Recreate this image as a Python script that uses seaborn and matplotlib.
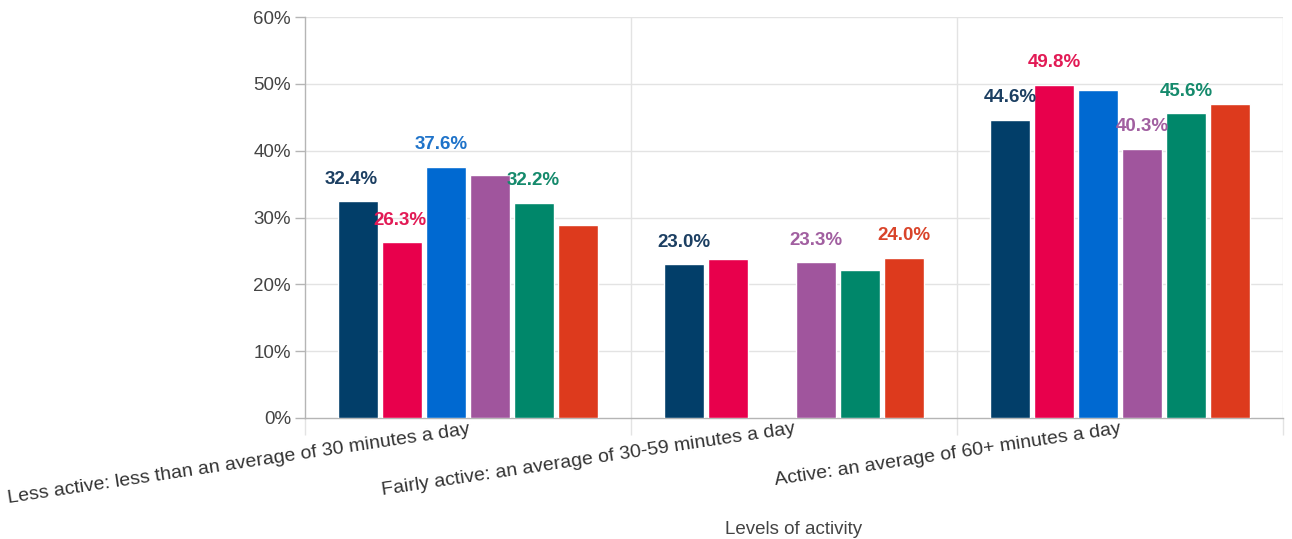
import numpy as np
import pandas as pd
import matplotlib
matplotlib.use("Agg")
import matplotlib.pyplot as plt
import seaborn as sns

# ---- data ----
categories = [
    "Less active: less than an average of 30 minutes a day",
    "Fairly active: an average of 30-59 minutes a day",
    "Active: an average of 60+ minutes a day",
]
series = ["Series 1", "Series 2", "Series 3", "Series 4", "Series 5", "Series 6"]
values_s1 = [32.4, 23.0, 44.6]
values_s2 = [26.3, 23.8, 49.8]
values_s3 = [37.6, np.nan, 49.1]
values_s4 = [36.4, 23.3, 40.3]
values_s5 = [32.2, 22.2, 45.6]
values_s6 = [28.9, 24.0, 47.0]
# which values carry a data label in the reference
labelled_s1 = [True, True, True]
labelled_s2 = [True, False, True]
labelled_s3 = [True, False, False]
labelled_s4 = [False, True, True]
labelled_s5 = [True, False, True]
labelled_s6 = [False, True, False]
y_ticks = [0, 10, 20, 30, 40, 50, 60]
x_title = "Levels of activity"

# ---- styles ----
colors = ["#023e69", "#e8004c", "#0069d1", "#a0559d", "#00876a", "#dd3a1d"]
label_colors = ["#1c3f62", "#e21a55", "#1f73c9", "#a15fa0", "#158a6c", "#d9442a"]
# small horizontal nudges (pixels) of labels, per series per category
label_dx = {(0, 0): -7, (1, 0): -2, (2, 0): -5, (4, 0): -1}

all_values = [values_s1, values_s2, values_s3, values_s4, values_s5, values_s6]
all_labelled = [labelled_s1, labelled_s2, labelled_s3, labelled_s4, labelled_s5, labelled_s6]

rows = []
for s, vals in zip(series, all_values):
    for c, v in zip(categories, vals):
        rows.append({"category": c, "series": s, "value": v})
df = pd.DataFrame(rows)

sns.set_theme(style="white")
plt.rcParams["font.family"] = ["Liberation Sans", "DejaVu Sans"]

fig = plt.figure(figsize=(12.92, 5.39), dpi=100)
ax = fig.add_axes([305 / 1292, 1 - 418 / 539, (1283 - 305) / 1292, (418 - 17) / 539])

sns.barplot(data=df, x="category", y="value", hue="series", order=categories,
            hue_order=series, palette=colors, width=0.81, gap=0.1,
            saturation=1, legend=False, ax=ax, errorbar=None, zorder=3)

ax.set_ylim(0, 60)
ax.set_xlim(-0.5, 2.5)
ax.set_yticks(y_ticks)
ax.set_yticklabels([f"{t}%" for t in y_ticks])
ax.set_ylabel("")
ax.set_xlabel("")

# grid
for t in y_ticks[1:]:
    ax.axhline(t, color="#e3e3e3", lw=1, zorder=0)
ax.set_xticks([-0.5, 0.5, 1.5, 2.5], minor=True)
ax.grid(False)
for b in [0.5, 1.5, 2.5]:
    ax.axvline(b, color="#e3e3e3", lw=1, zorder=0)

for side in ["top", "right"]:
    ax.spines[side].set_visible(False)
ax.spines["left"].set_color("#b5b5b5")
ax.spines["bottom"].set_color("#b5b5b5")
ax.spines["left"].set_linewidth(1)
ax.spines["bottom"].set_linewidth(1)

ax.tick_params(axis="y", which="major", length=7, color="#b5b5b5", width=1,
               labelsize=13.5, labelcolor="#444444", pad=3, left=True)
ax.tick_params(axis="x", which="minor", length=12, color="#e3e3e3", width=1, bottom=True)
ax.tick_params(axis="x", which="major", length=0, pad=2)
ax.set_xticks(range(len(categories)))
ax.set_xticklabels(categories, rotation=8.5, ha="right", rotation_mode="anchor",
                   fontsize=14, color="#333333")

# data labels
for si, cont in enumerate(ax.containers):
    for bar in cont:
        h = bar.get_height()
        if not np.isfinite(h) or h == 0:
            continue
        cx = bar.get_x() + bar.get_width() / 2
        ci = int(round(cx))
        if not all_labelled[si][ci]:
            continue
        dx = label_dx.get((si, ci), 0) * 0.72
        ax.annotate(f"{all_values[si][ci]:.1f}%", xy=(cx, h), xytext=(dx, 16),
                    textcoords="offset points", ha="center", va="center",
                    fontsize=13.5, fontweight="bold", color=label_colors[si], zorder=5)

fig.text(794 / 1292, 1 - 530 / 539, x_title, ha="center", va="center",
         fontsize=13.5, color="#444444")

fig.savefig("out.png", dpi=100, facecolor="white")
